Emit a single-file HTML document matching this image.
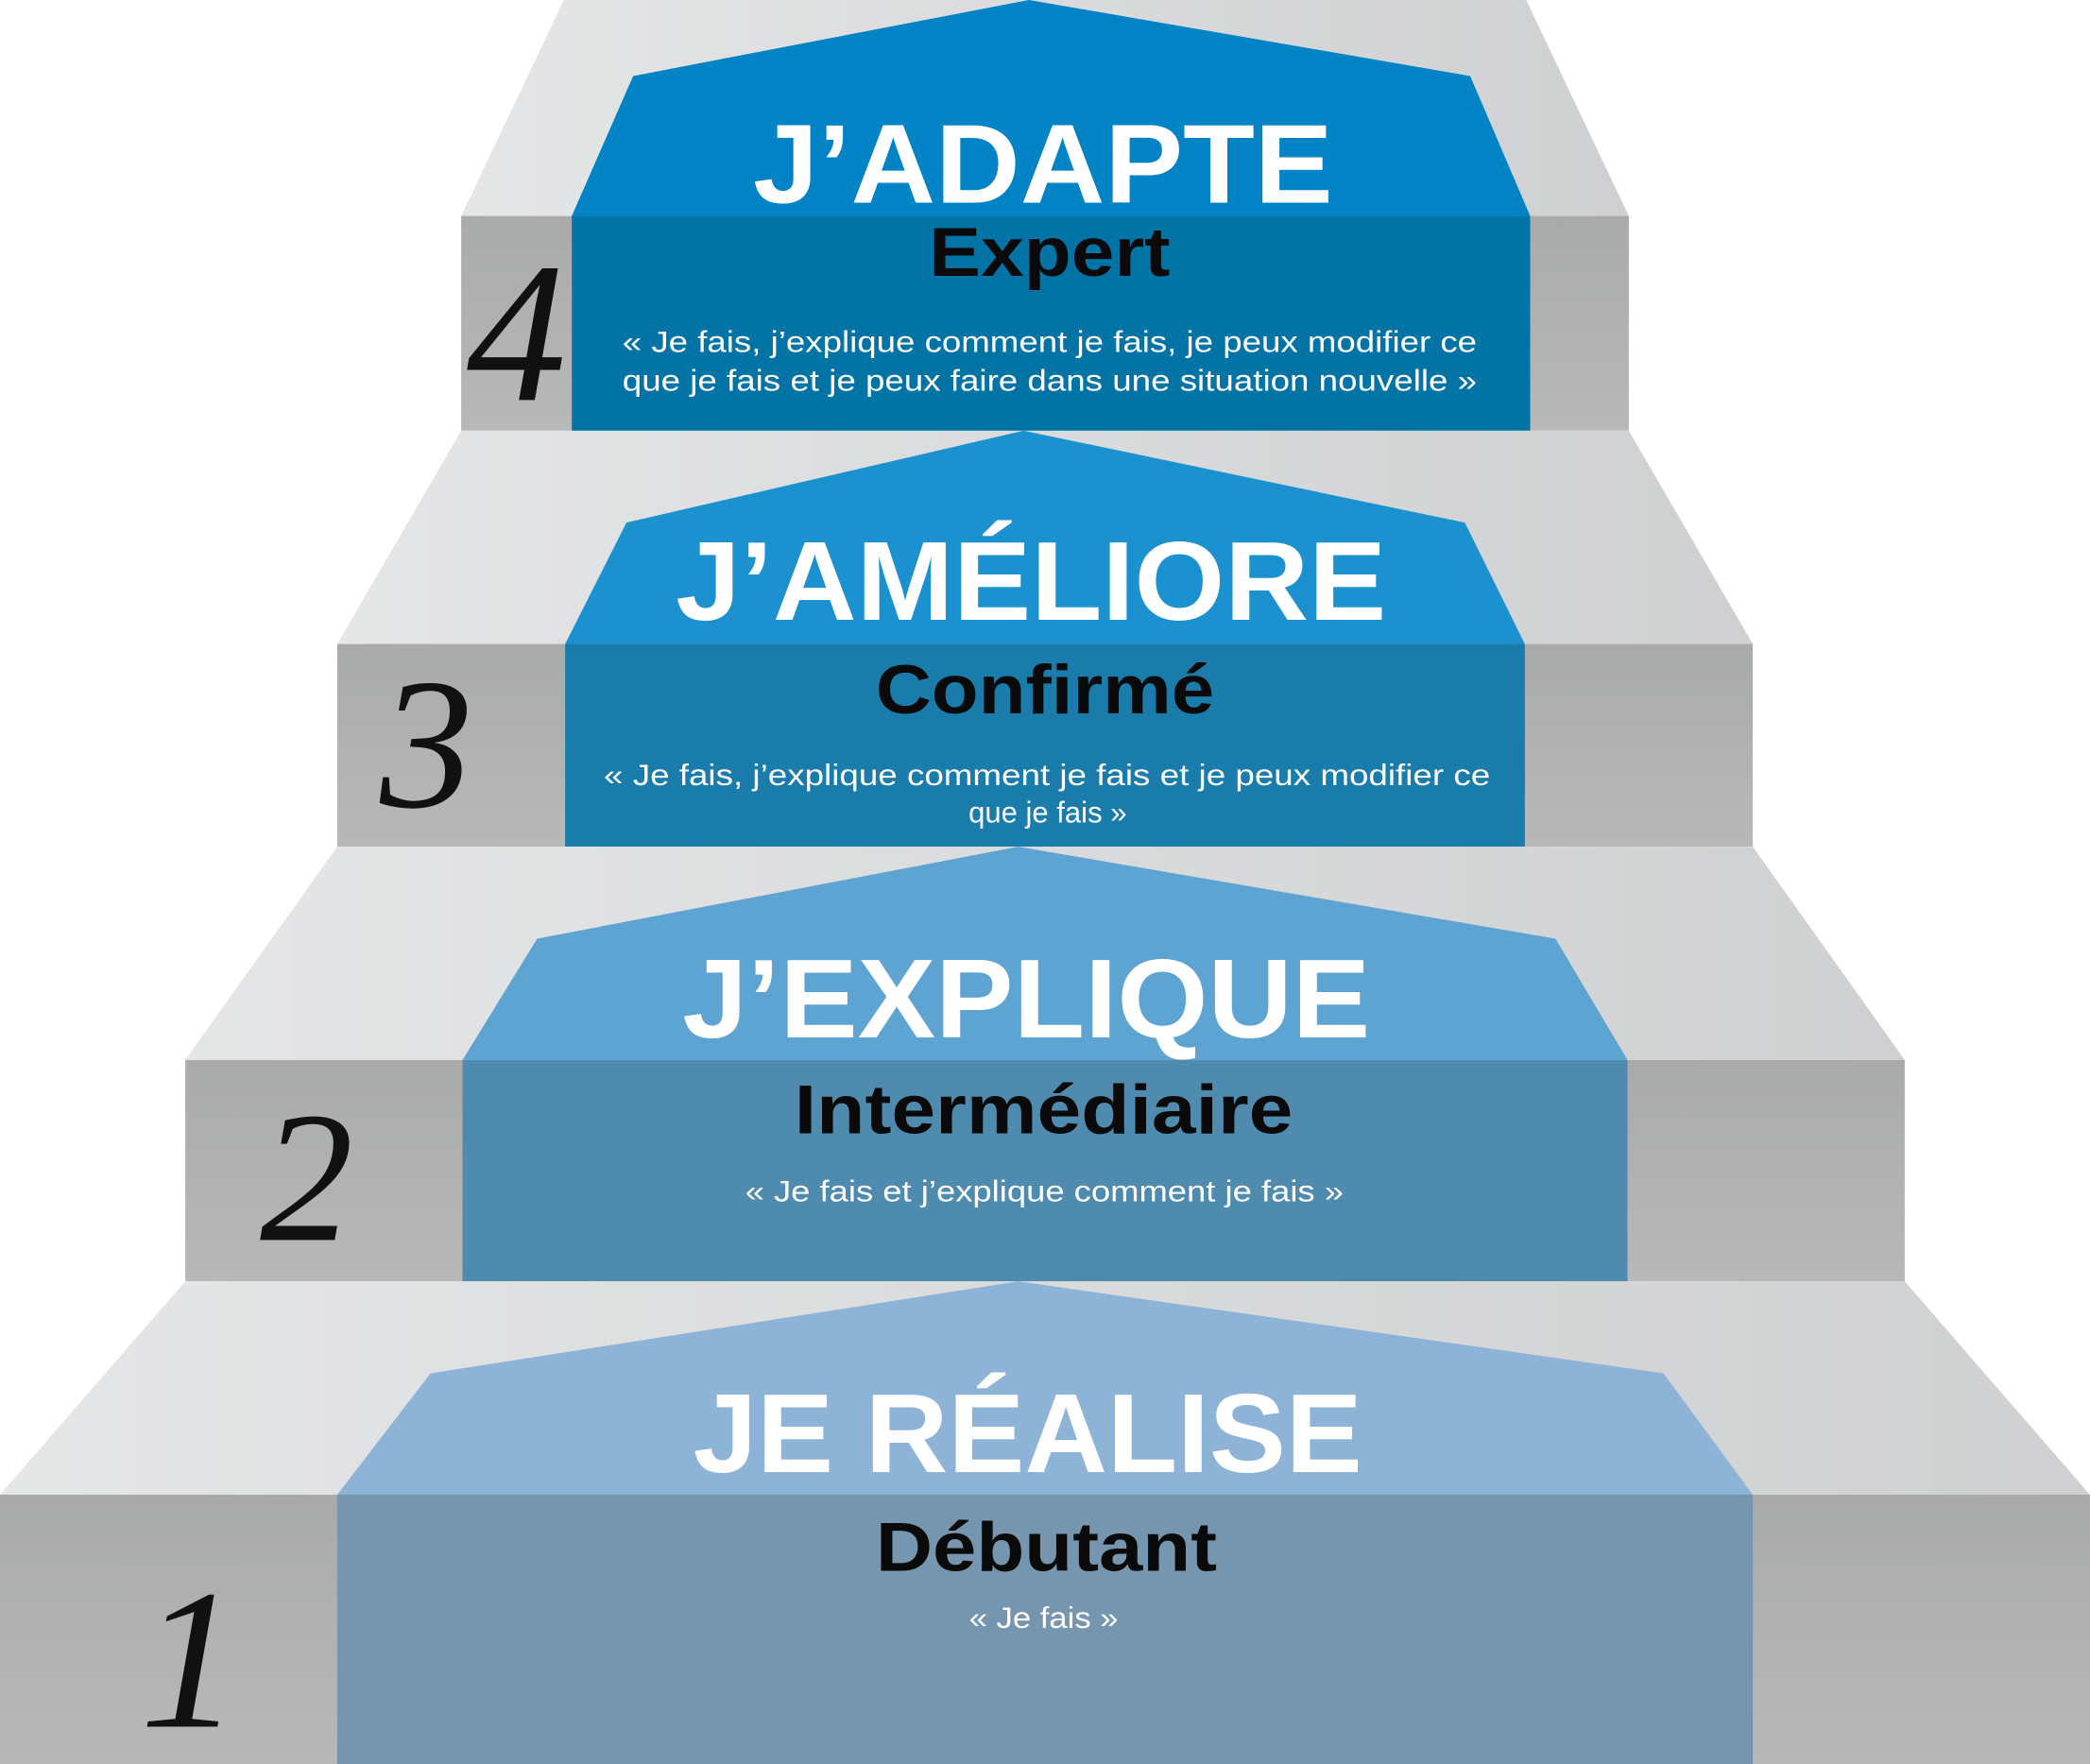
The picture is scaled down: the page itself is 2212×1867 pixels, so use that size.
<!DOCTYPE html>
<html><head><meta charset="utf-8"><style>
html,body{margin:0;padding:0;background:#fff;}
svg{display:block;}
.t{font-family:"Liberation Sans",sans-serif;font-weight:bold;fill:#fff;}
.s{font-family:"Liberation Sans",sans-serif;font-weight:bold;fill:#0a0a0a;}
.q{font-family:"Liberation Sans",sans-serif;fill:#fff;}
.n{font-family:"Liberation Serif",serif;font-style:italic;fill:#111;}
</style></head><body>
<svg width="2212" height="1867" viewBox="0 0 1568 1323" preserveAspectRatio="none" xmlns="http://www.w3.org/2000/svg">
<defs>
<linearGradient id="g" x1="0" x2="1" y1="0" y2="0"><stop offset="0" stop-color="#e5e6e7"/><stop offset="1" stop-color="#cfd0d1"/></linearGradient>
<linearGradient id="r" x1="0" x2="0" y1="0" y2="1"><stop offset="0" stop-color="#a9aaaa"/><stop offset="1" stop-color="#b8b8b8"/></linearGradient>
</defs>
<!-- step 4 -->
<polygon points="423,0 1145,0 1222,162 346,162" fill="url(#g)"/>
<rect x="346" y="162" width="876" height="161" fill="url(#r)"/>
<polygon points="772,0 1103,57 1148,162 429,162 475,57" fill="#0283c6"/>
<rect x="429" y="162" width="719" height="161" fill="#0273a5"/>
<!-- step 3 -->
<polygon points="346,323 1222,323 1315,483 253,483" fill="url(#g)"/>
<rect x="253" y="483" width="1062" height="152" fill="url(#r)"/>
<polygon points="768,323 1099,392 1144,483 424,483 470,392" fill="#1b92cf"/>
<rect x="424" y="483" width="720" height="152" fill="#1a7cab"/>
<!-- step 2 -->
<polygon points="253,635 1315,635 1429,795 139,795" fill="url(#g)"/>
<rect x="139" y="795" width="1290" height="166" fill="url(#r)"/>
<polygon points="764,635 1167,704 1221,795 347,795 403,704" fill="#5ea4d2"/>
<rect x="347" y="795" width="874" height="166" fill="#4f8aaf"/>
<!-- step 1 -->
<polygon points="139,961 1429,961 1568,1121 0,1121" fill="url(#g)"/>
<rect x="0" y="1121" width="1568" height="202" fill="url(#r)"/>
<polygon points="764,961 1248,1030 1315,1121 253,1121 323,1030" fill="#8db4d7"/>
<rect x="253" y="1121" width="1062" height="202" fill="#7596ae"/>

<text class="t" x="565" y="152" font-size="84" textLength="435" lengthAdjust="spacingAndGlyphs">J’ADAPTE</text>
<text class="s" x="697" y="207" font-size="52" textLength="181" lengthAdjust="spacingAndGlyphs">Expert</text>
<text class="q" x="467" y="264" font-size="22" textLength="641" lengthAdjust="spacingAndGlyphs">« Je fais, j’explique comment je fais, je peux modifier ce</text>
<text class="q" x="467" y="293" font-size="22" textLength="641" lengthAdjust="spacingAndGlyphs">que je fais et je peux faire dans une situation nouvelle »</text>

<text class="t" x="507" y="465" font-size="84" textLength="533" lengthAdjust="spacingAndGlyphs">J’AMÉLIORE</text>
<text class="s" x="657" y="535" font-size="52" textLength="254" lengthAdjust="spacingAndGlyphs">Confirmé</text>
<text class="q" x="453" y="589" font-size="22" textLength="665" lengthAdjust="spacingAndGlyphs">« Je fais, j’explique comment je fais et je peux modifier ce</text>
<text class="q" x="786" y="617" font-size="22" text-anchor="middle">que je fais »</text>

<text class="t" x="512" y="778" font-size="84" textLength="516" lengthAdjust="spacingAndGlyphs">J’EXPLIQUE</text>
<text class="s" x="596" y="850" font-size="52" textLength="374" lengthAdjust="spacingAndGlyphs">Intermédiaire</text>
<text class="q" x="559" y="901" font-size="22" textLength="449" lengthAdjust="spacingAndGlyphs">« Je fais et j’explique comment je fais »</text>

<text class="t" x="520" y="1104" font-size="84" textLength="502" lengthAdjust="spacingAndGlyphs">JE RÉALISE</text>
<text class="s" x="657" y="1178" font-size="52" textLength="256" lengthAdjust="spacingAndGlyphs">Débutant</text>
<text class="q" x="727" y="1221" font-size="22" textLength="112" lengthAdjust="spacingAndGlyphs">« Je fais »</text>

<text class="n" x="350" y="300" font-size="150">4</text>
<text class="n" x="285" y="605" font-size="140">3</text>
<text class="n" x="195" y="930" font-size="140">2</text>
<text class="n" x="105" y="1295" font-size="150">1</text>
</svg>
</body></html>
